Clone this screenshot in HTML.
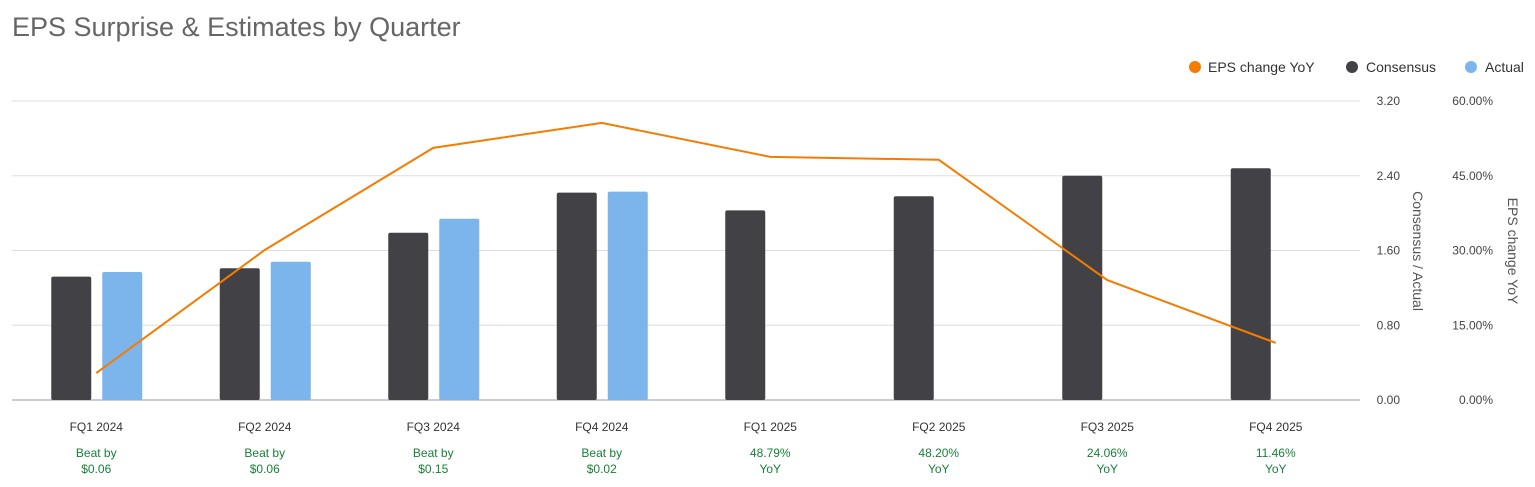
<!DOCTYPE html>
<html><head><meta charset="utf-8"><style>
body{margin:0;background:#fff;font-family:"Liberation Sans",sans-serif;}
svg{display:block}
</style></head><body>
<svg width="1535" height="487">
<text x="12" y="36" font-size="27" fill="#666">EPS Surprise &amp; Estimates by Quarter</text>
<g font-size="14" fill="#333">
<circle cx="1195" cy="67" r="6" fill="#f57c00"/><text x="1208" y="72">EPS change YoY</text>
<circle cx="1352" cy="67" r="6" fill="#424146"/><text x="1366" y="72">Consensus</text>
<circle cx="1471" cy="67" r="6" fill="#7cb4ec"/><text x="1485" y="72">Actual</text>
</g>
<g id="grid"></g><g id="bars"></g><g id="line"></g><g id="labels"></g>
<text transform="translate(1413,251) rotate(90)" text-anchor="middle" font-size="14" fill="#555">Consensus / Actual</text>
<text transform="translate(1508,251) rotate(90)" text-anchor="middle" font-size="14" fill="#555">EPS change YoY</text>
</svg>
<script>
const categories=["FQ1 2024","FQ2 2024","FQ3 2024","FQ4 2024","FQ1 2025","FQ2 2025","FQ3 2025","FQ4 2025"];
const consensus=[1.32,1.41,1.79,2.22,2.03,2.18,2.40,2.48];
const actual=[1.37,1.48,1.94,2.23,null,null,null,null];
const yoy=[5.4,30.1,50.6,55.6,48.79,48.20,24.06,11.46];
const notes1=["Beat by","Beat by","Beat by","Beat by","48.79%","48.20%","24.06%","11.46%"];
const notes2=["$0.06","$0.06","$0.15","$0.02","YoY","YoY","YoY","YoY"];
const leftTicks=["0.00","0.80","1.60","2.40","3.20"];
const rightTicks=["0.00%","15.00%","30.00%","45.00%","60.00%"];
const NS="http://www.w3.org/2000/svg";
const X0=12,X1=1360,Y0=400,Y1=101;
const yL=v=>Y0-(v/3.2)*(Y0-Y1);
const yR=v=>Y0-(v/60)*(Y0-Y1);
const bw=(X1-X0)/categories.length;
const xc=i=>X0+bw*(i+0.5);
function mk(p,t,a){const e=document.createElementNS(NS,t);for(const k in a)e.setAttribute(k,a[k]);p.appendChild(e);return e;}
const g=document.getElementById('grid'),b=document.getElementById('bars'),l=document.getElementById('line'),lb=document.getElementById('labels');
leftTicks.forEach((t,i)=>{const y=yL(parseFloat(t));
const ln=mk(g,'line',{x1:X0,x2:X1,y1:y,y2:y,stroke:i==0?'#999':'#ddd','stroke-width':1});


const a=mk(g,'text',{x:1400,y:y+4,'text-anchor':'end','font-size':12,fill:'#444'});a.textContent=t;


const r=mk(g,'text',{x:1493,y:yR(parseFloat(rightTicks[i]))+4,'text-anchor':'end','font-size':12,fill:'#444'});r.textContent=rightTicks[i];


});
categories.forEach((c,i)=>{const x=xc(i);
const r1=mk(b,'rect',{x:x-45,y:yL(consensus[i]),width:40,height:Y0-yL(consensus[i]),fill:'#424146',rx:2});


if(actual[i]!=null){const r2=mk(b,'rect',{x:x+6,y:yL(actual[i]),width:40,height:Y0-yL(actual[i]),fill:'#7cb4ec',rx:2});

}
const t=mk(lb,'text',{x:x,y:431,'text-anchor':'middle','font-size':12,fill:'#333'});t.textContent=c;


const n1=mk(lb,'text',{x:x,y:457,'text-anchor':'middle','font-size':12,fill:'#188038'});n1.textContent=notes1[i];


const n2=mk(lb,'text',{x:x,y:473,'text-anchor':'middle','font-size':12,fill:'#188038'});n2.textContent=notes2[i];


});
const pl=mk(l,'polyline',{points:yoy.map((v,i)=>xc(i)+','+yR(v)).join(' '),fill:'none',stroke:'#f57c00','stroke-width':2});


</script>
</body></html>
